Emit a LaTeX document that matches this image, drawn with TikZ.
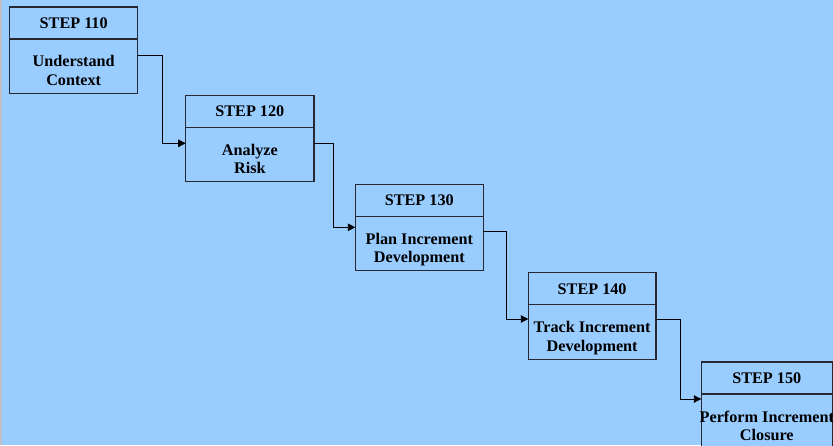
\documentclass[tikz,border=0pt]{standalone}
\usepackage{fontspec}
\setmainfont{Liberation Serif}
\usetikzlibrary{arrows.meta,calc}
\definecolor{sky}{RGB}{153,204,255}
\definecolor{edge}{RGB}{38,40,50}
\definecolor{rim}{RGB}{190,192,196}

% one stage: header box with step number above a body box with two text lines
% #1 id, #2 left, #3 top, #4 width, #5 step number, #6 first line, #7 second line
\newcommand\drawstage[7]{%
  \node[headbox,minimum width=#4pt,anchor=north west] (h#1) at (#2,#3) {};
  \node[bodybox,minimum width=#4pt,anchor=north west] (b#1) at (h#1.south west) {};
  \node[labeltext,anchor=base] (s#1) at ($(h#1.north)+(0,21.4)$) {STEP #5};
  \node[labeltext,anchor=north,align=center] (t#1) at ($(h#1.north)+(0,48.4)$) {#6\\#7};
}

\begin{document}
\begin{tikzpicture}[x=1pt,y=-1pt,
  headbox/.style={draw=edge,line width=1.2pt,fill=sky,minimum height=32pt,inner sep=0pt,outer sep=0pt},
  bodybox/.style={draw=edge,line width=1.2pt,fill=sky,minimum height=54.4pt,inner sep=0pt,outer sep=0pt},
  labeltext/.style={font=\fontsize{16.2}{18.8}\selectfont\bfseries,inner sep=0pt,text=black},
  conn/.style={draw=black,line width=0.9pt,-{Triangle[length=7.5pt,width=7.5pt]}}
]
\useasboundingbox (0,0) rectangle (833,445);
\fill[sky] (0,0) rectangle (833,445);
\fill[rim] (0,0) rectangle (2.4,445);

\drawstage{110}{9.7}{7}{128}{110}{Understand}{Context}
\drawstage{120}{185.7}{95.3}{128.3}{120}{Analyze}{Risk}
\drawstage{130}{355.3}{184.3}{128}{130}{Plan Increment}{Development}
\drawstage{140}{528.3}{272.7}{127.7}{140}{Track Increment}{Development}
\drawstage{150}{701.3}{362}{131}{150}{Perform Increment}{Closure}

% exit and entry points of the connectors
\coordinate (o110) at ($(h110.north east)+(0,48.3)$);
\coordinate (i120) at ($(h120.north west)+(0,48)$);
\coordinate (o120) at ($(h120.north east)+(0,48)$);
\coordinate (i130) at ($(h130.north west)+(0,43)$);
\coordinate (o130) at ($(h130.north east)+(0,47)$);
\coordinate (i140) at ($(h140.north west)+(0,46.3)$);
\coordinate (o140) at ($(h140.north east)+(0,46.3)$);
\coordinate (i150) at ($(h150.north west)+(0,37)$);

\draw[conn] (o110) -| ($(i120)+(-23.7,0)$) -- (i120);
\draw[conn] (o120) -| ($(i130)+(-22,0)$) -- (i130);
\draw[conn] (o130) -| ($(i140)+(-22,0)$) -- (i140);
\draw[conn] (o140) -| ($(i150)+(-21,0)$) -- (i150);
\end{tikzpicture}
\end{document}
